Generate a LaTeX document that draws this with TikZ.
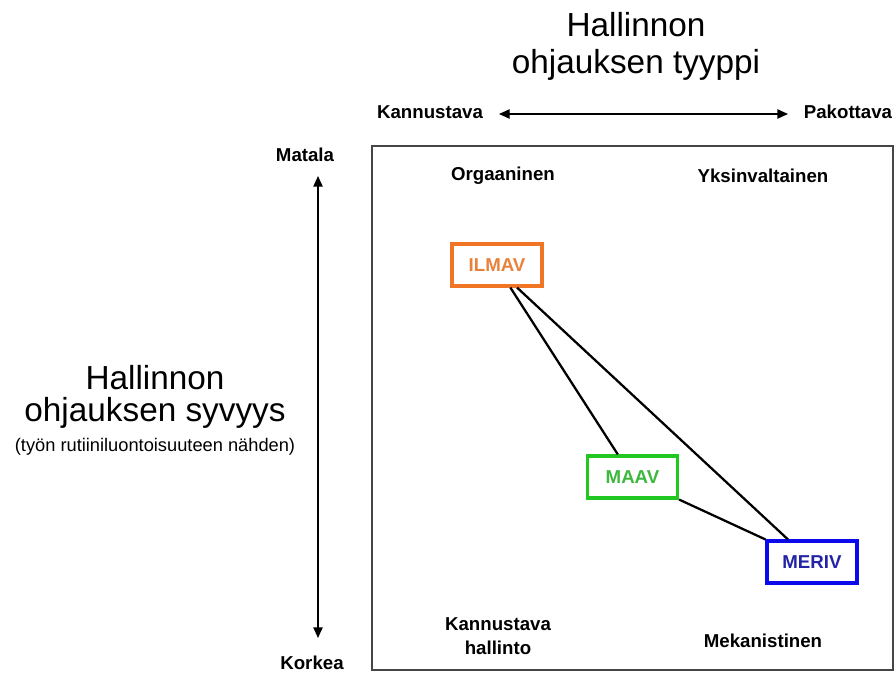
\documentclass[tikz,border=0pt]{standalone}
\usepackage{fontspec}
\setmainfont{Liberation Sans}
\usetikzlibrary{arrows.meta,calc}
\definecolor{orgA}{RGB}{240,118,38}
\definecolor{orgT}{RGB}{232,130,58}
\definecolor{grnA}{RGB}{34,200,34}
\definecolor{grnT}{RGB}{60,184,60}
\definecolor{bluA}{RGB}{10,10,235}
\definecolor{bluT}{RGB}{35,35,165}
\definecolor{frameC}{RGB}{70,70,70}
\tikzset{
  lbl/.style={font=\fontsize{14}{16}\selectfont\bfseries, align=center, inner sep=0pt},
  big/.style={font=\fontsize{25}{28}\selectfont, inner sep=0pt},
  unit/.style={draw, line width=2.3pt, minimum width=90*0.75pt, minimum height=42*0.75pt, inner sep=0pt, fill=white, font=\fontsize{14}{16}\selectfont\bfseries},
  conn/.style={line width=1.7pt, black},
  axis/.style={line width=1pt, {Triangle[length=8pt,width=7pt]}-{Triangle[length=8pt,width=7pt]}}
}
\begin{document}
\begin{tikzpicture}[x=0.75pt,y=-0.75pt]
\useasboundingbox (0,0) rectangle (896,673);
% frame
\node[draw=frameC, line width=1.3pt, minimum width=521*0.75pt, minimum height=524*0.75pt, inner sep=0pt] (frame) at (632.5,408) {};
% titles
\node[big] (t1) at (636,25) {Hallinnon};
\node[big] (t2) at (636,65) {ohjauksen tyyppi};
\node[big] (l1) at (155,378) {Hallinnon};
\node[big] (l2) at (155,413) {ohjauksen syvyys};
\node[font=\fontsize{13.7}{15}\selectfont, inner sep=0pt] (l3) at (155,447) {(työn rutiiniluontoisuuteen nähden)};
% axis labels
\node[lbl] (kan) at (430,112) {Kannustava};
\node[lbl] (pak) at (848,112) {Pakottava};
\node[lbl] (mat) at (305,155) {Matala};
\node[lbl] (kor) at (312,663) {Korkea};
\coordinate (hl) at (499,114);
\coordinate (hr) at (788,114);
\coordinate (vt) at (318,176);
\coordinate (vb) at (318,638);
\draw[axis] (hl) -- (hr);
\draw[axis] (vt) -- (vb);
% quadrant labels
\node[lbl] (org) at (503,176) {Orgaaninen};
\node[lbl] (yks) at (763,176) {Yksinvaltainen};
\node[lbl] (kh) at (498,636) {Kannustava\\[2pt]hallinto};
\node[lbl] (mek) at (763,641) {Mekanistinen};
% units
\node[unit, draw=orgA, text=orgT] (ilmav) at (497,265) {ILMAV};
\node[unit, draw=grnA, text=grnT] (maav) at (632.5,477) {MAAV};
\node[unit, draw=bluA, text=bluT] (meriv) at (812,562) {MERIV};
% connectors
\draw[conn] ([xshift=10]ilmav.south) -- ([xshift=-11]maav.north);
\draw[conn] ([xshift=15]ilmav.south) -- ([xshift=-18]meriv.north);
\draw[conn] (maav.south east) -- (meriv.north west);
\end{tikzpicture}
\end{document}
